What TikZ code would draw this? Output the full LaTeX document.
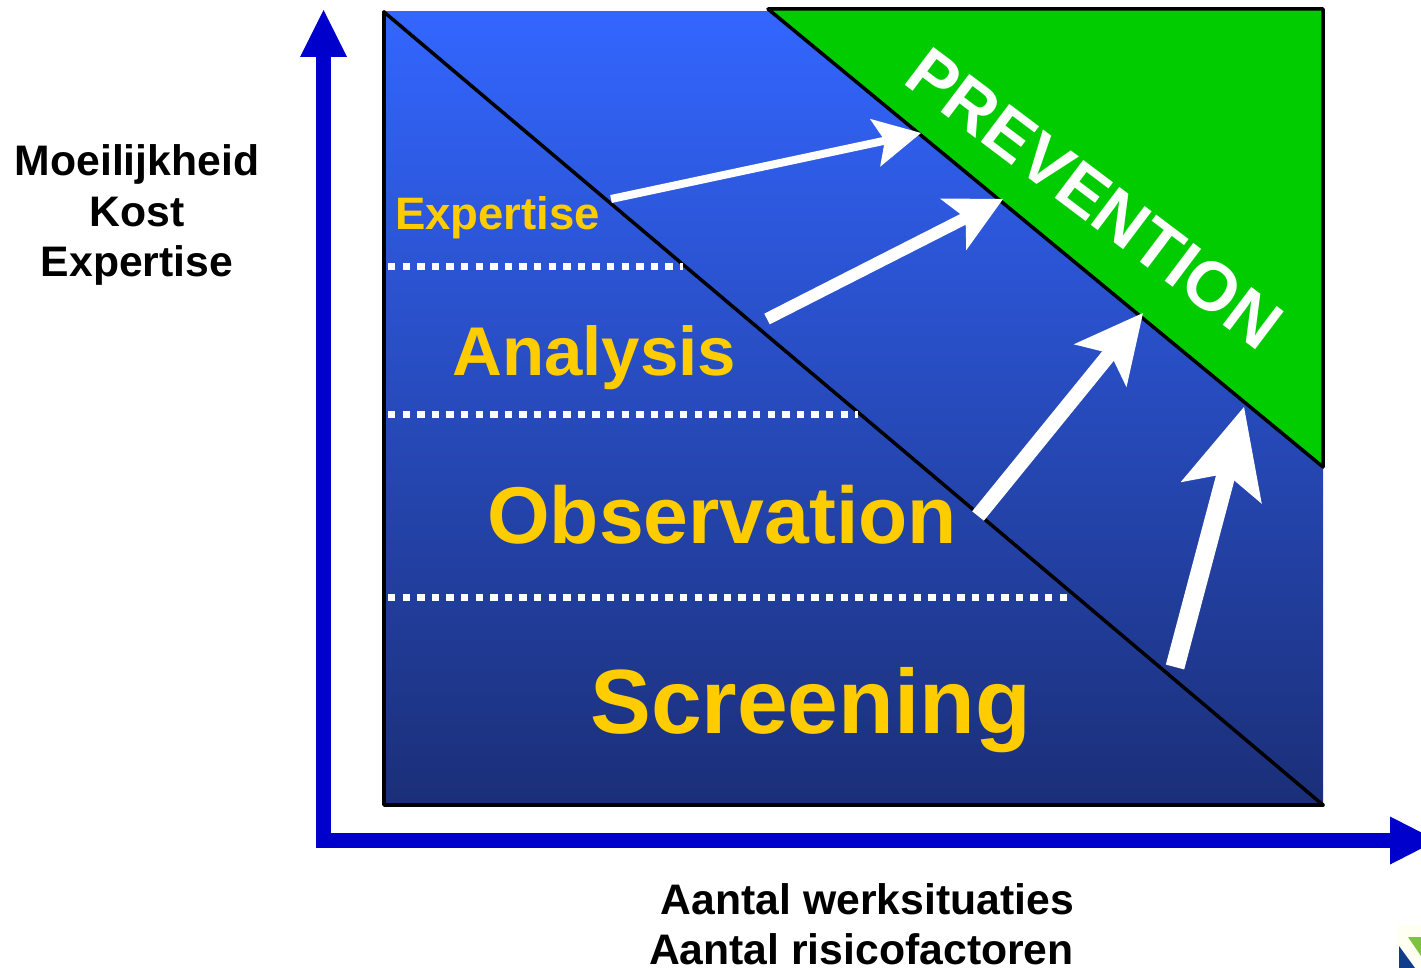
\documentclass[tikz,border=0pt]{standalone}
\usepackage{fontspec}
\setmainfont{Liberation Sans}
\usetikzlibrary{arrows.meta}
\definecolor{axisblue}{RGB}{0,0,204}
\definecolor{topblue}{RGB}{51,102,255}
\definecolor{botblue}{RGB}{27,47,120}
\definecolor{prevgreen}{RGB}{0,204,0}
\definecolor{labyellow}{RGB}{255,204,0}
\definecolor{logoblue}{RGB}{16,60,140}
\definecolor{logogreen}{RGB}{125,194,66}
\definecolor{logocream}{RGB}{255,255,242}
\tikzset{
  border/.style={black, line width=3.5, line join=round, line cap=round},
  dotline/.style={white, line width=7, dash pattern=on 7.3 off 7.3},
  flowarrow/.style n args={4}{white, line width=#1,
    -{Stealth[length=#2, width=#3, inset=#4, line width=0pt]}},
  axisline/.style={axisblue, line width=15, line join=miter,
    {Triangle[length=47, width=47, line width=0pt]}-{Triangle[length=47, width=48, line width=0pt]}},
  blacklab/.style={inner sep=0, text=black, font=\bfseries\fontsize{42.7}{51}\selectfont},
  yellab/.style={inner sep=0, text=labyellow, font=\bfseries\fontsize{#1}{#1}\selectfont},
}
\begin{document}
\begin{tikzpicture}[x=1pt,y=-1pt]
\useasboundingbox (0,0) rectangle (1421,968);
\clip (0,0) rectangle (1421,968);

% coordinates
\coordinate (tl) at (384,12);
\coordinate (bl) at (384,805);
\coordinate (br) at (1323,805);
\coordinate (gtl) at (768,9);
\coordinate (gtr) at (1323,9);
\coordinate (gbr) at (1323,467);

% blue gradient area
\shade[top color=topblue, bottom color=botblue] (384,12) rectangle (1323,805);
% green triangle
\fill[prevgreen] (gtl) -- (gtr) -- (gbr) -- cycle;
\draw[border] (gtl) -- (gtr) -- (gbr) -- cycle;
% frame lines and main diagonal
\draw[border] (tl) -- (bl) -- (br);
\draw[border] (tl) -- (br);

% dotted separators
\coordinate (d1s) at (388,266.5); \coordinate (d1e) at (683,266.5);
\coordinate (d2s) at (388,414);   \coordinate (d2e) at (858,414);
\coordinate (d3s) at (388,597.5); \coordinate (d3e) at (1072,597.5);
\draw[dotline] (d1s) -- (d1e);
\draw[dotline] (d2s) -- (d2e);
\draw[dotline] (d3s) -- (d3e);

% axes
\coordinate (ytip) at (323.5,10);
\coordinate (corner) at (323.5,840.5);
\coordinate (xtip) at (1437,840.5);
\draw[axisline] (ytip) -- (corner) -- (xtip);

% white arrows
\coordinate (a1t) at (611,199);  \coordinate (a1h) at (921,133);
\coordinate (a2t) at (767,319);  \coordinate (a2h) at (1003,199);
\coordinate (a3t) at (978,516);  \coordinate (a3h) at (1143,313);
\coordinate (a4t) at (1175,667); \coordinate (a4h) at (1244,407);
\draw[flowarrow={8}{47}{49}{10}] (a1t) -- (a1h);
\draw[flowarrow={12}{56}{58}{14}] (a2t) -- (a2h);
\draw[flowarrow={15}{68}{68}{16}] (a3t) -- (a3h);
\draw[flowarrow={19}{89}{84}{20}] (a4t) -- (a4h);

% yellow level labels
\node[yellab=45.5, anchor=base west] (lexp) at (395,230) {Expertise};
\node[yellab=69, anchor=base west] (lana) at (452,375) {Analysis};
\node[yellab=80.5, anchor=base west] (lobs) at (487,543) {Observation};
\node[yellab=91.2, anchor=base west] (lscr) at (590,733) {Screening};

% prevention
\node[inner sep=0, text=white, font=\bfseries\fontsize{69}{69}\selectfont,
      rotate=-37, anchor=base west] (prev) at (901,82) {PREVENTION};

% axis labels
\node[blacklab, anchor=base] (y1) at (137,176) {Moeilijkheid};
\node[blacklab, anchor=base] (y2) at (137,226.5) {Kost};
\node[blacklab, anchor=base] (y3) at (137,276.5) {Expertise};
\node[blacklab, anchor=base east] (x1) at (1074,914) {Aantal werksituaties};
\node[blacklab, anchor=base east] (x2) at (1074,964) {Aantal risicofactoren};

% small logo bottom right
\fill[logocream] (1397,925) rectangle (1421,968);
\fill[logoblue] (1399,946) -- (1399,968) -- (1415,968) -- cycle;
\fill[logogreen] (1408,937) -- (1421,937) -- (1421,956) -- cycle;
\end{tikzpicture}
\end{document}
